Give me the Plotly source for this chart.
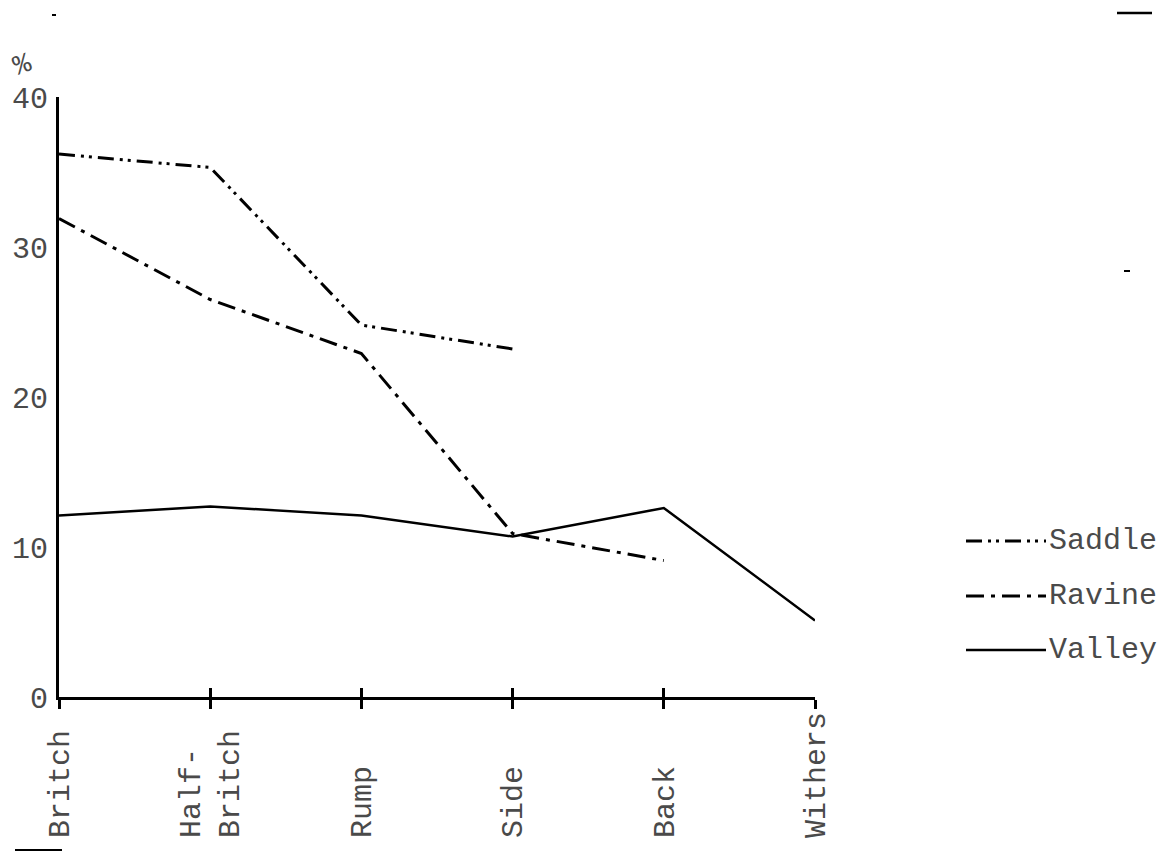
import plotly.graph_objects as go

# ---------------- data ----------------
categories = ["Britch", "Half-Britch", "Rump", "Side", "Back", "Withers"]
tick_labels = ["Britch", "Half-<br>Britch", "Rump", "Side", "Back", "Withers"]

saddle_x = ["Britch", "Half-Britch", "Rump", "Side"]
saddle_y = [36.2, 35.3, 24.8, 23.2]

ravine_x = ["Britch", "Half-Britch", "Rump", "Side", "Back"]
ravine_y = [31.9, 26.5, 22.9, 10.9, 9.1]

valley_x = ["Britch", "Half-Britch", "Rump", "Side", "Back", "Withers"]
valley_y = [12.1, 12.7, 12.1, 10.7, 12.6, 5.1]

y_ticks = [0, 10, 20, 30, 40]
series_names = ["Saddle", "Ravine", "Valley"]

# ---------------- style ----------------
FONT = "Liberation Mono"
TXT = "#4a4a4a"
W, H = 1170, 858
L, R, T, B = 59, W - 815, 97, H - 697
PW, PH = W - L - R, H - T - B

SADDLE_DASH = "16px,6px,3px,5px,3px,6px"
RAVINE_DASH = "18px,7px,4px,7px"


def px(x):
    return (x - L) / PW


def py(y):
    return (H - B - y) / PH


def pad(label, n=7):
    lines = label.split("<br>")
    return "<br>".join(s + "\u00a0" * (n - len(s)) for s in lines)


fig = go.Figure()
fig.add_trace(go.Scatter(x=saddle_x, y=saddle_y, mode="lines", name=series_names[0],
                         line=dict(color="black", width=3, dash=SADDLE_DASH),
                         showlegend=False))
fig.add_trace(go.Scatter(x=ravine_x, y=ravine_y, mode="lines", name=series_names[1],
                         line=dict(color="black", width=3, dash=RAVINE_DASH),
                         showlegend=False))
fig.add_trace(go.Scatter(x=valley_x, y=valley_y, mode="lines", name=series_names[2],
                         line=dict(color="black", width=2.5),
                         showlegend=False))
# helper trace so the overlay axis (inner half of crossing ticks) is drawn
fig.add_trace(go.Scatter(x=[], y=[], xaxis="x2", showlegend=False, hoverinfo="skip"))

axis_font = dict(family=FONT, size=30, color=TXT)

fig.update_layout(
    width=W, height=H,
    margin=dict(l=L, r=R, t=T, b=B, autoexpand=False),
    paper_bgcolor="white", plot_bgcolor="white",
    showlegend=False,
    xaxis=dict(
        type="category", categoryorder="array", categoryarray=categories,
        range=[0, 5], tickmode="array", tickvals=categories,
        ticktext=[pad(t) for t in tick_labels], tickangle=-90,
        tickfont=axis_font, ticks="outside", ticklen=9, tickwidth=3, tickcolor="black",
        showline=True, linecolor="black", linewidth=3, showgrid=False, zeroline=False,
        automargin=False, ticklabelstandoff=-9,
    ),
    xaxis2=dict(
        type="category", categoryorder="array", categoryarray=categories,
        overlaying="x", anchor="y", side="bottom",
        range=[0, 5], tickmode="array", tickvals=categories[1:],
        ticks="inside", ticklen=9, tickwidth=3, tickcolor="black",
        showticklabels=False, showline=False, showgrid=False, zeroline=False,
        automargin=False,
    ),
    yaxis=dict(
        range=[0, 40], tickmode="array", tickvals=y_ticks,
        ticktext=[str(v) for v in y_ticks], tickfont=axis_font,
        ticks="", showline=True, linecolor="black", linewidth=3,
        showgrid=False, zeroline=False, ticklabelstandoff=2, automargin=False,
    ),
)

# "%" unit mark above the y axis
fig.add_annotation(x=px(22), y=py(66), xref="paper", yref="paper", text="%",
                   showarrow=False, font=dict(family=FONT, size=28, color=TXT),
                   xanchor="center", yanchor="middle", textangle=-20)

# hand-made legend (long line samples, as in the original)
legend_rows = [(series_names[0], 541, SADDLE_DASH, 3),
               (series_names[1], 596, RAVINE_DASH, 3),
               (series_names[2], 650, "solid", 2.5)]
for name, ypix, dash, lw in legend_rows:
    fig.add_shape(type="line", xref="paper", yref="paper",
                  x0=px(966), x1=px(1046), y0=py(ypix), y1=py(ypix),
                  line=dict(color="black", width=lw, dash=dash))
    fig.add_annotation(x=px(1047), y=py(ypix), xref="paper", yref="paper",
                       text=name, showarrow=False, xanchor="left", yanchor="middle",
                       font=dict(family=FONT, size=30, color=TXT))

# small stray typed marks on the sheet
for (x0, x1, yy, lw) in [(15, 62, 850, 2), (1117, 1152, 13, 2.5), (52, 56, 15, 2), (1124, 1130, 271, 2)]:
    fig.add_shape(type="line", xref="paper", yref="paper",
                  x0=px(x0), x1=px(x1), y0=py(yy), y1=py(yy),
                  line=dict(color="black", width=lw))

fig.write_html(
    "out.html",
    config={"displayModeBar": False},
    post_script="document.body.style.margin='0';document.body.style.overflow='hidden';",
)
